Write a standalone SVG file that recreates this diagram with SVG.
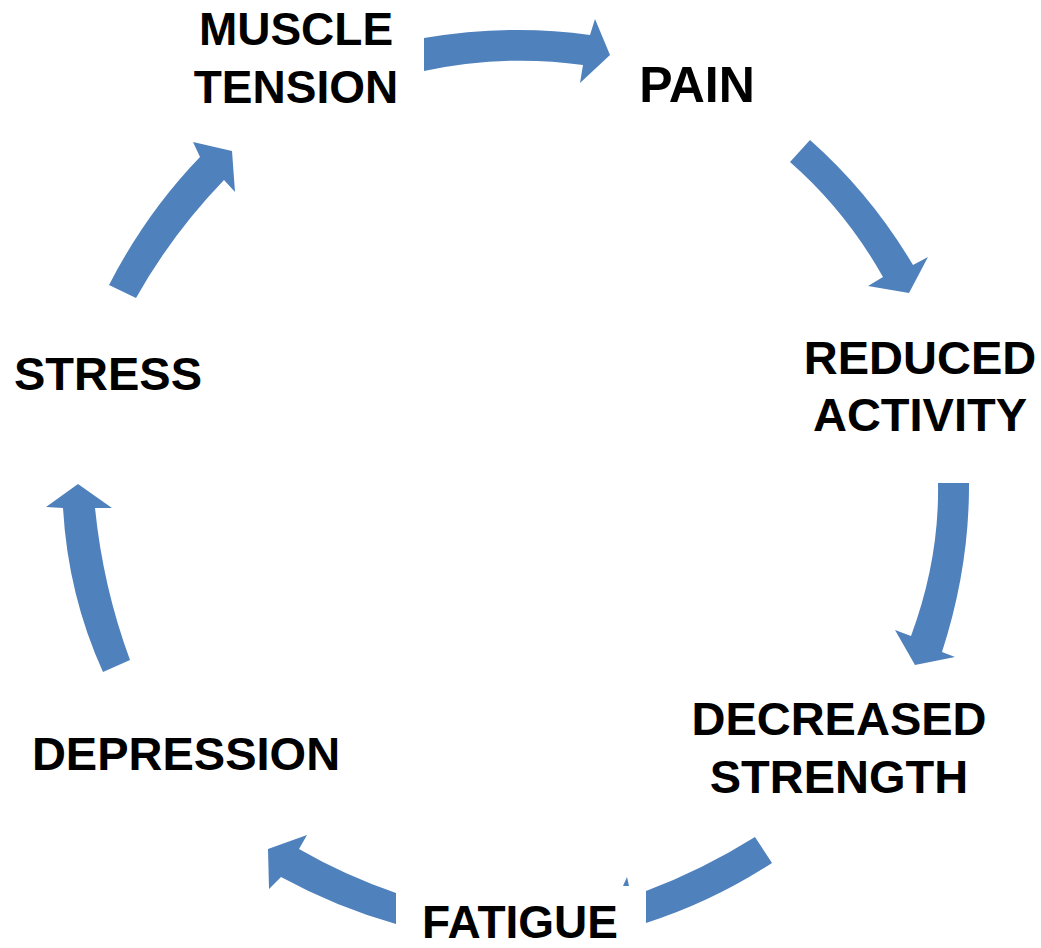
<svg xmlns="http://www.w3.org/2000/svg" width="1041" height="948" viewBox="0 0 1041 948">
<style>
.lbl{font-family:"Liberation Sans",Arial,sans-serif;font-weight:bold;fill:#000;text-anchor:middle}
.arr{fill:#4F81BD;stroke:none}
</style>
<rect width="1041" height="948" fill="#fff"/>
<g id="connectors">
<path class="arr" d="M424,38 Q510,23.5 590,35 L595,19 L610,55 L580,83 L583,65 Q505,54 424,71 Z"/>
<path class="arr" d="M810,140 Q870.5,193.5 913,265 L928,257 L909,293 L868,286 L883,277 Q845.5,210.5 790,162 Z"/>
<path class="arr" d="M969,483 Q969.5,567 942,652 L955,657 L915,665 L895,630 L911,636 Q939.5,559 938,483 Z"/>
<path class="arr" d="M755,837 Q702,870 646,891 L646,923 Q712,902 772,863 Z"/>
<path class="arr" d="M623,886 L627,877 L629,886 Z"/>
<path class="arr" d="M396,893 Q344,875 299,849 L307,835 L268,849 L269,889 L281,877 Q336,907 396,924 Z"/>
<path class="arr" d="M130,660 Q103,587 95,508 L112,508 L78,484 L46,507 L63,508 Q68,595 103,672 Z"/>
<path class="arr" d="M109,285 Q146,213 200,157 L193,142 L232,151 L235,192 L224,180 Q172,234 136,298 Z"/>
</g>
<g id="muscle-tension"><text class="lbl" x="296" y="45" font-size="46">MUSCLE</text><text class="lbl" x="296" y="103" font-size="46">TENSION</text></g>
<g id="pain"><text class="lbl" x="697" y="102" font-size="50">PAIN</text></g>
<g id="reduced-activity"><text class="lbl" x="920" y="374" font-size="47">REDUCED</text><text class="lbl" x="920" y="431" font-size="47">ACTIVITY</text></g>
<g id="decreased-strength"><text class="lbl" x="839" y="735" font-size="47">DECREASED</text><text class="lbl" x="839" y="793" font-size="47">STRENGTH</text></g>
<g id="fatigue"><text class="lbl" x="520" y="938" font-size="46">FATIGUE</text></g>
<g id="depression"><text class="lbl" x="186" y="770" font-size="47">DEPRESSION</text></g>
<g id="stress"><text class="lbl" x="108" y="390" font-size="47">STRESS</text></g>
</svg>
